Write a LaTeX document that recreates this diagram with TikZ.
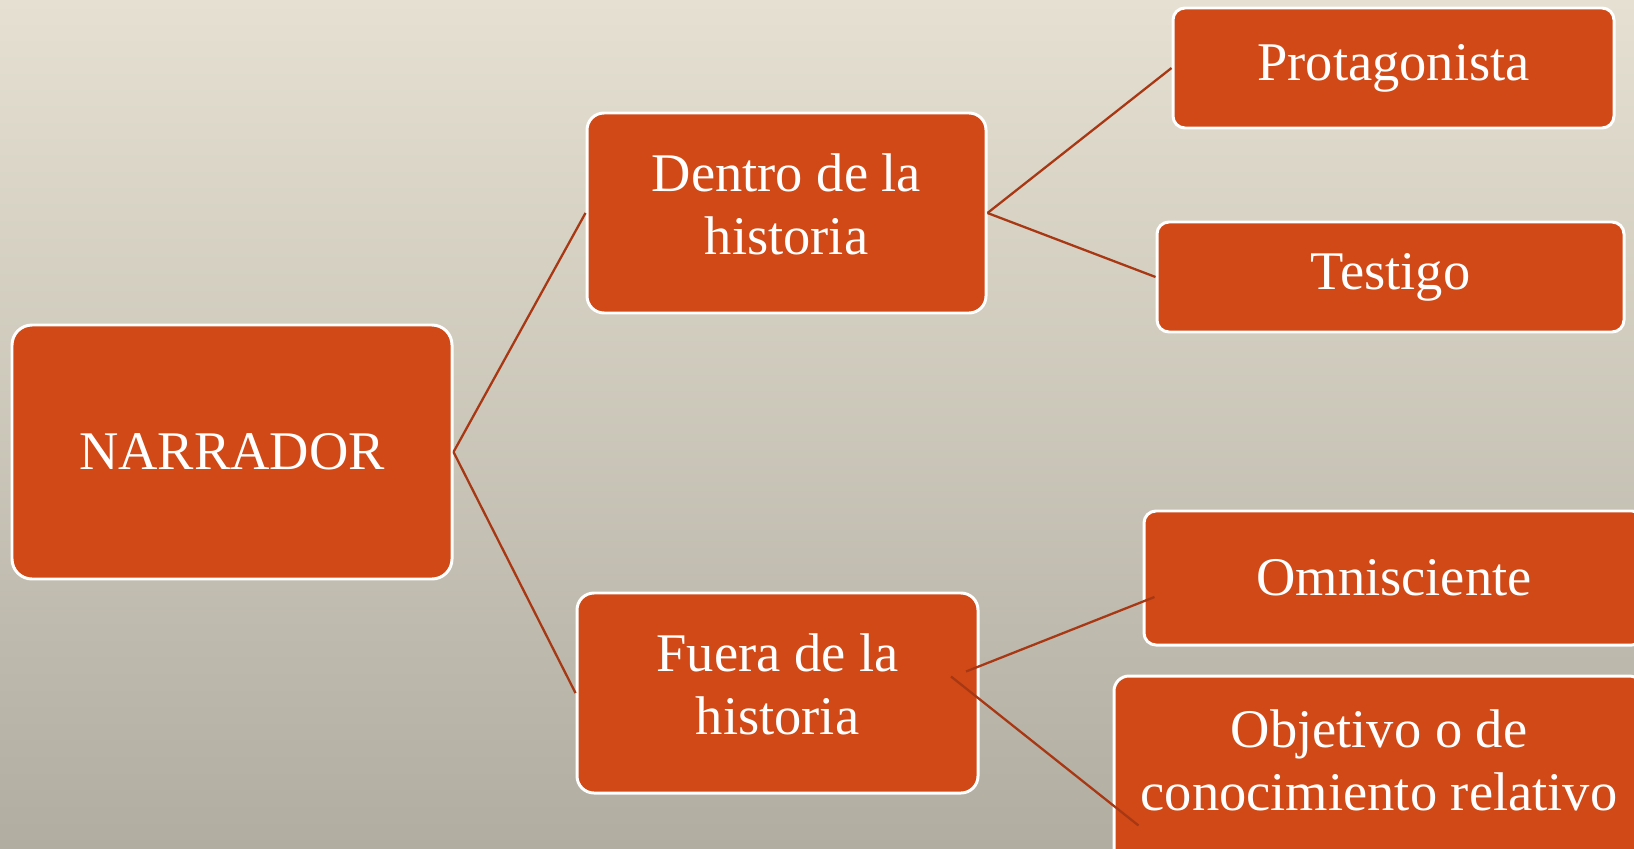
\documentclass[tikz,border=0pt]{standalone}
\usepackage{fontspec}
\setmainfont{Liberation Serif}
\usetikzlibrary{calc}
\definecolor{boxorange}{RGB}{209,73,22}
\definecolor{linkred}{RGB}{168,56,20}
\definecolor{bgtop}{RGB}{229,224,209}
\definecolor{bgbottom}{RGB}{177,173,161}

\begin{document}
\begin{tikzpicture}[
  box/.style={draw=white, line width=1.7pt, fill=boxorange, text=white,
    inner sep=0pt, align=center, font=\fontsize{31}{35.6}\selectfont},
  link/.style={draw=linkred, line width=1.3pt}]
\useasboundingbox (0,0) rectangle (32.68,16.96);
\clip (0,0) rectangle (32.68,16.96);
\shade [top color=bgtop, bottom color=bgbottom] (0,0) rectangle (32.68,16.96);

\node[box, rounded corners=0.4cm, minimum width=8.8cm, minimum height=5.08cm]%
 (narrador) at (4.64,7.92) {NARRADOR};
\node[box, rounded corners=0.34cm, minimum width=7.98cm, minimum height=4cm,
 text depth=10pt] (dentro) at (15.73,12.70) {Dentro de la\\historia};
\node[box, rounded corners=0.34cm, minimum width=8.02cm, minimum height=4cm,
 text depth=10pt] (fuera) at (15.55,3.10) {Fuera de la\\historia};
\node[box, rounded corners=0.24cm, minimum width=8.82cm, minimum height=2.4cm]%
 (protagonista) at (27.87,15.60) {Protagonista};
\node[box, rounded corners=0.24cm, minimum width=9.34cm, minimum height=2.2cm]%
 (testigo) at (27.81,11.42) {Testigo};
\node[box, rounded corners=0.24cm, minimum width=10cm, minimum height=2.68cm]%
 (omnisciente) at (27.88,5.40) {Omnisciente};
\node[box, rounded corners=0.3cm, minimum width=10.6cm, minimum height=4.04cm,
 text depth=19pt] (objetivo) at (27.58,1.42) {Objetivo o de\\conocimiento relativo};

% the lower links are shifted off the boxes
\coordinate (fueraA) at ($(fuera.east)+(-0.27,0.43)$);
\coordinate (fueraB) at ($(fuera.east)+(-0.57,0.33)$);
\coordinate (omniIn) at ($(omnisciente.west)+(0.24,-0.38)$);
\coordinate (objIn) at ($(objetivo.north west)+(0.52,-3.02)$);

\draw[link] (narrador.east) -- (dentro.west);
\draw[link] (narrador.east) -- (fuera.west);
\draw[link] (dentro.east) -- (protagonista.west);
\draw[link] (dentro.east) -- (testigo.west);
\draw[link] (fueraA) -- (omniIn);
\draw[link] (fueraB) -- (objIn);
\end{tikzpicture}
\end{document}
